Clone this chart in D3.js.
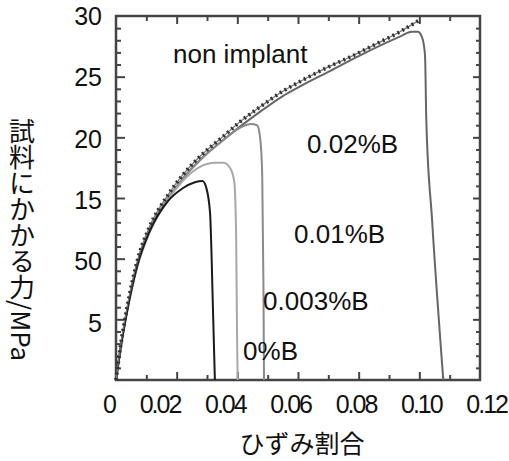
<!DOCTYPE html>
<html lang="ja">
<head>
<meta charset="UTF-8">
<title>ひずみ割合と試料にかかる力</title>
<script src="https://d3js.org/d3.v7.min.js"></script>
<style>
  body { margin: 0; background: #fff; }
  svg { font-family: "Liberation Sans", Arial, sans-serif; }
  .jp { font-family: "Noto Sans CJK JP", sans-serif; }
</style>
</head>
<body>
<div id="chart"></div>
<script>
// tick labels (the "50" is printed that way in the original figure)
const xTickValues = [0, 0.02, 0.04, 0.06, 0.08, 0.10, 0.12];
const xTickLabels = ["0", "0.02", "0.04", "0.06", "0.08", "0.10", "0.12"];
const yTickValues = [5, 10, 15, 20, 25, 30];
const yTickLabels = ["5", "50", "15", "20", "25", "30"];

// stress-strain curves, [strain, stress MPa]
const nonImplant = [[0,0],[0.0015,2.8],[0.0036,5.9],[0.007,9.8],[0.011,12.6],[0.017,15.2],[0.022,16.9],
  [0.028,18.5],[0.035,20.0],[0.041,21.3],[0.048,22.6],[0.055,23.8],[0.0607,24.6],[0.070,25.8],
  [0.077,26.6],[0.085,27.6],[0.0936,28.7],[0.0996,29.6]];
const boron002 = [[0,0],[0.0015,2.6],[0.0036,5.7],[0.007,9.5],[0.011,12.3],[0.017,14.9],[0.022,16.6],
  [0.028,18.2],[0.035,19.7],[0.041,20.9],[0.048,22.2],[0.055,23.4],[0.0607,24.2],[0.070,25.4],
  [0.080,26.7],[0.0936,28.3],[0.0975,28.7],[0.0995,28.7],[0.1008,28.3],[0.1015,27.6],[0.1019,26.6],
  [0.1023,21.4],[0.1042,13.2],[0.1079,0]];
const boron001 = [[0,0],[0.0015,2.6],[0.0036,5.7],[0.007,9.5],[0.011,12.3],[0.017,14.9],[0.022,16.6],
  [0.028,18.2],[0.035,19.7],[0.041,20.8],[0.0445,21.1],[0.0465,21.0],[0.0475,20.0],[0.0482,17],
  [0.0486,8],[0.0488,0]];
const boron0003 = [[0,0],[0.0015,2.5],[0.0036,5.5],[0.007,9.3],[0.011,12.1],[0.017,14.8],[0.022,16.4],
  [0.028,17.6],[0.0325,17.9],[0.0355,17.9],[0.0378,17.4],[0.0390,16.3],[0.0396,12],[0.0399,4],[0.0401,0]];
const boron0 = [[0,0],[0.0015,2.6],[0.0036,5.6],[0.007,9.4],[0.011,12.2],[0.017,14.7],[0.022,15.8],
  [0.026,16.3],[0.0285,16.4],[0.0297,15.9],[0.031,13.8],[0.032,5.5],[0.0326,0]];

const seriesNames = ["non implant", "0.02%B", "0.01%B", "0.003%B", "0%B"];
// where each name sits, in data units [strain, stress]
const labelAt = [[0.0188, 26.1], [0.063, 18.7], [0.0587, 11.3], [0.0485, 5.8], [0.0419, 1.65]];

const width = 509, height = 461;
const plot = { left: 116, right: 480, top: 16, bottom: 380 };

const svg = d3.select("#chart").append("svg")
  .attr("width", width).attr("height", height)
  .attr("viewBox", [0, 0, width, height]);

const x = d3.scaleLinear().domain([0, 0.12]).range([plot.left, plot.right]);
const y = d3.scaleLinear().domain([0, 30]).range([plot.bottom, plot.top]);
// the printed numbers do not sit exactly on the ticks in the original
const xLab = d3.scaleLinear().domain([0, 0.12]).range([115, 507]);
const yLab = d3.scaleLinear().domain([0, 30]).range([384, 16]);

const tickColor = "#444";
function ticks(axis, tr, size, values) {
  const g = svg.append("g").attr("transform", tr)
    .call(axis.tickValues(values).tickSize(size).tickFormat(""));
  g.select(".domain").remove();
  g.selectAll("line").attr("stroke", tickColor).attr("stroke-width", 2);
}
const xMinor = [0.01, 0.03, 0.05, 0.07, 0.09, 0.11];
const xMajor = [0.02, 0.04, 0.06, 0.08, 0.10];
const yMinor = d3.range(1, 30).filter(v => v % 5 !== 0);
const yMajor = [5, 10, 15, 20, 25];

ticks(d3.axisBottom(x), `translate(0,${plot.bottom})`, -5, xMinor);
ticks(d3.axisBottom(x), `translate(0,${plot.bottom})`, -8, xMajor);
ticks(d3.axisTop(x), `translate(0,${plot.top})`, -5, xMinor);
ticks(d3.axisTop(x), `translate(0,${plot.top})`, -8, xMajor);
ticks(d3.axisLeft(y), `translate(${plot.left},0)`, -5, yMinor);
ticks(d3.axisLeft(y), `translate(${plot.left},0)`, -9, yMajor);
ticks(d3.axisRight(y), `translate(${plot.right},0)`, -4, yMinor);
ticks(d3.axisRight(y), `translate(${plot.right},0)`, -7, yMajor);

// frame
svg.append("rect")
  .attr("x", plot.left).attr("y", plot.top)
  .attr("width", plot.right - plot.left).attr("height", plot.bottom - plot.top)
  .attr("fill", "none").attr("stroke", tickColor).attr("stroke-width", 2.5);

const line = d3.line().x(d => x(d[0])).y(d => y(d[1])).curve(d3.curveMonotoneX);

const solid = [
  { data: boron002, color: "#666" },
  { data: boron001, color: "#8a8a8a" },
  { data: boron0003, color: "#a8a8a8" },
  { data: boron0, color: "#1a1a1a" }
];
svg.append("g").selectAll("path")
  .data(solid)
  .join("path")
  .attr("d", d => line(d.data))
  .attr("fill", "none")
  .attr("stroke", d => d.color)
  .attr("stroke-width", 2);

// non implant: thin line with small markers
svg.append("path")
  .attr("d", line(nonImplant))
  .attr("fill", "none").attr("stroke", "#777").attr("stroke-width", 1.3);
svg.append("path")
  .attr("d", line(nonImplant))
  .attr("fill", "none").attr("stroke", "#333").attr("stroke-width", 3.8)
  .attr("stroke-dasharray", "2,3.5");

// series names
svg.append("g").selectAll("text")
  .data(seriesNames)
  .join("text")
  .attr("x", (d, i) => x(labelAt[i][0]))
  .attr("y", (d, i) => y(labelAt[i][1]))
  .attr("font-size", 26)
  .attr("fill", "#111")
  .text(d => d);

// tick numbers
svg.append("g").selectAll("text")
  .data(xTickValues)
  .join("text")
  .attr("x", d => xLab(d))
  .attr("y", 413)
  .attr("text-anchor", "end")
  .attr("font-size", 25)
  .attr("letter-spacing", -2)
  .attr("fill", "#111")
  .text((d, i) => xTickLabels[i]);

svg.append("g").selectAll("text")
  .data(yTickValues)
  .join("text")
  .attr("x", 102)
  .attr("y", d => yLab(d))
  .attr("dy", "0.36em")
  .attr("text-anchor", "end")
  .attr("font-size", 25)
  .attr("fill", "#111")
  .text((d, i) => yTickLabels[i]);

// axis titles
svg.append("text")
  .attr("class", "jp")
  .attr("x", 302).attr("y", 453)
  .attr("text-anchor", "middle")
  .attr("font-size", 25)
  .attr("fill", "#111")
  .text("ひずみ割合");

svg.append("text")
  .attr("class", "jp")
  .attr("x", 22).attr("y", 118)
  .style("writing-mode", "vertical-rl")
  .attr("font-size", 26)
  .attr("fill", "#111")
  .text("試料にかかる力/MPa");
</script>
</body>
</html>
